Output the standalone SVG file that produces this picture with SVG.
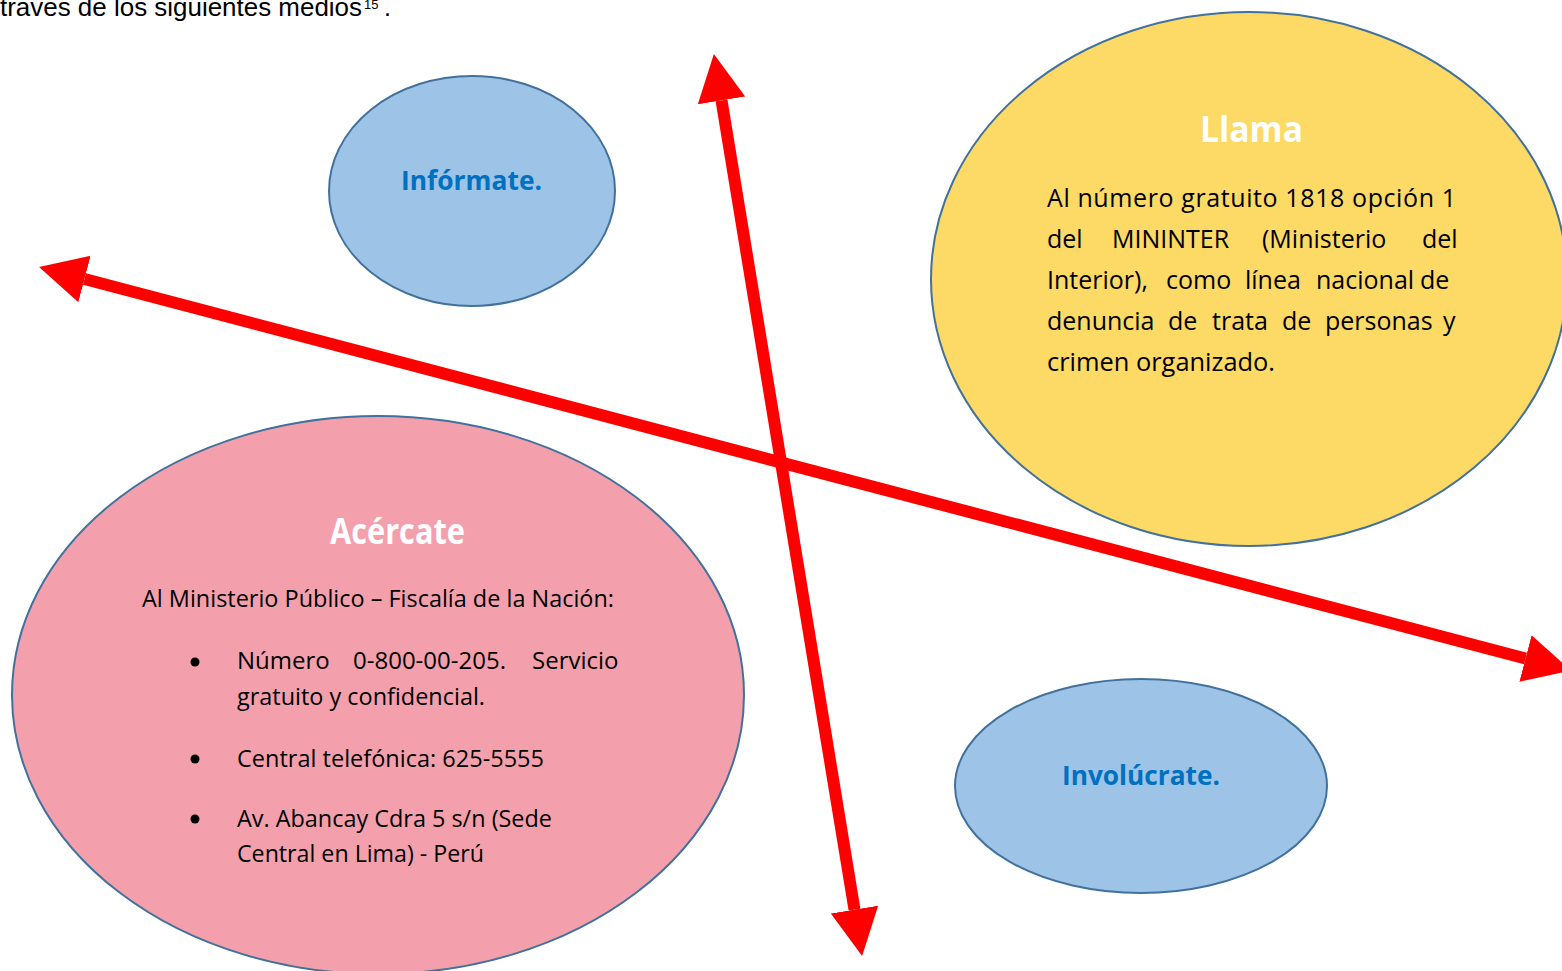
<svg xmlns="http://www.w3.org/2000/svg" width="1562" height="971" viewBox="0 0 1562 971">
<defs>
<style>
.node{stroke:#41719C;stroke-width:2}
.title{font-family:"Open Sans","Liberation Sans",sans-serif;font-weight:bold;text-anchor:middle}
.wt{fill:#FFFFFF;font-size:35px}
.bt{fill:#0070C0;font-size:26px}
.body{font-family:"Open Sans","Liberation Sans",sans-serif;fill:#000000}
.ll{font-size:25px}
.ac{font-size:24px}
.arrow{stroke:#FF0000;stroke-width:12;fill:none;marker-start:url(#head);marker-end:url(#head)}
</style>
<marker id="head" markerUnits="userSpaceOnUse" markerWidth="50" markerHeight="50" viewBox="0 -25 50 50" refX="0" refY="0" orient="auto-start-reverse">
<path d="M0,-24 L47,0 L0,24 z" fill="#FF0000"/>
</marker>
</defs>
<rect width="1562" height="971" fill="#FFFFFF"/>
<text x="0" y="16" font-family="Liberation Sans, Arial, sans-serif" font-size="25" textLength="362" lengthAdjust="spacingAndGlyphs" fill="#000">traves de los siguientes medios</text>
<text x="364" y="9" font-family="Liberation Sans, Arial, sans-serif" font-size="13" fill="#000">15</text>
<text x="384" y="16" font-family="Liberation Sans, Arial, sans-serif" font-size="25" fill="#000">.</text>

<g id="informate">
<ellipse class="node" cx="472" cy="191" rx="143" ry="115" fill="#9DC3E6"/>
<text class="title bt" x="471.5" y="190" textLength="141" lengthAdjust="spacingAndGlyphs">Infórmate.</text>
</g>

<g id="llama">
<ellipse class="node" cx="1249" cy="279" rx="318" ry="267" fill="#FDD966"/>
<text class="title wt" x="1251.5" y="142" textLength="103" lengthAdjust="spacingAndGlyphs">Llama</text>
<g class="body ll">
<text x="1047" y="207" textLength="409" lengthAdjust="spacing">Al número gratuito 1818 opción 1</text>
<text y="248"><tspan x="1047">del</tspan><tspan x="1112">MININTER</tspan><tspan x="1262">(Ministerio</tspan><tspan x="1422">del</tspan></text>
<text y="289"><tspan x="1047">Interior),</tspan><tspan x="1166">como</tspan><tspan x="1245">línea</tspan><tspan x="1316">nacional</tspan><tspan x="1420">de</tspan></text>
<text y="330"><tspan x="1047">denuncia</tspan><tspan x="1168">de</tspan><tspan x="1212">trata</tspan><tspan x="1282">de</tspan><tspan x="1325">personas</tspan><tspan x="1443">y</tspan></text>
<text x="1047" y="371" textLength="228" lengthAdjust="spacingAndGlyphs">crimen organizado.</text>
</g>
</g>

<g id="acercate">
<ellipse class="node" cx="378" cy="695" rx="366" ry="279" fill="#F4A0AC"/>
<text class="title wt" x="397.5" y="544" textLength="135" lengthAdjust="spacingAndGlyphs">Acércate</text>
<g class="body ac">
<text x="142" y="607" textLength="472" lengthAdjust="spacingAndGlyphs">Al Ministerio Público – Fiscalía de la Nación:</text>
<circle cx="195" cy="662" r="4.5"/>
<circle cx="195" cy="759" r="4.5"/>
<circle cx="195" cy="819" r="4.5"/>
<text y="669"><tspan x="237">Número</tspan><tspan x="353">0-800-00-205.</tspan><tspan x="532">Servicio</tspan></text>
<text x="237" y="705" textLength="248" lengthAdjust="spacingAndGlyphs">gratuito y confidencial.</text>
<text x="237" y="767" textLength="307" lengthAdjust="spacingAndGlyphs">Central telefónica: 625-5555</text>
<text x="237" y="827" textLength="315" lengthAdjust="spacingAndGlyphs">Av. Abancay Cdra 5 s/n (Sede</text>
<text x="237" y="862" textLength="247" lengthAdjust="spacingAndGlyphs">Central en Lima) - Perú</text>
</g>
</g>

<g id="involucrate">
<ellipse class="node" cx="1141" cy="786" rx="186" ry="107" fill="#9DC3E6"/>
<text class="title bt" x="1141" y="785" textLength="158" lengthAdjust="spacingAndGlyphs">Involúcrate.</text>
</g>

<g id="connectors">
<line class="arrow" x1="721.5" y1="100.4" x2="854.5" y2="909.6"/>
<line class="arrow" x1="84.5" y1="279" x2="1525.5" y2="658.5"/>
</g>
</svg>
